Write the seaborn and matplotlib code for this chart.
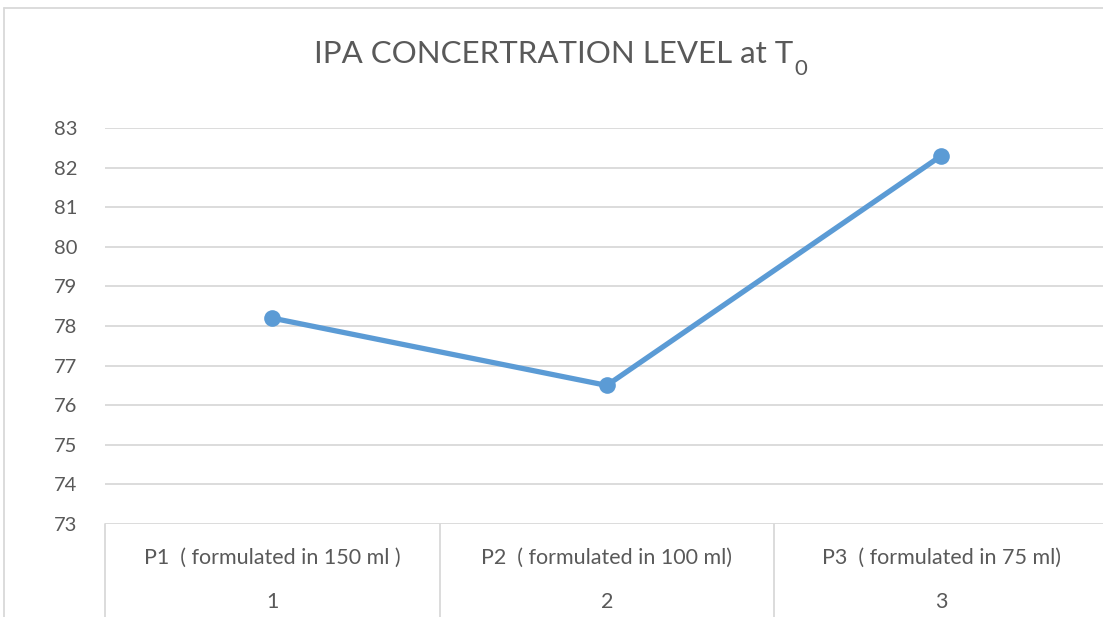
import matplotlib
matplotlib.use("Agg")
import matplotlib.pyplot as plt
import matplotlib.transforms as mtransforms
import seaborn as sns
import pandas as pd

# Data
positions = [1, 2, 3]
categories = ["P1  ( formulated in 150 ml )", "P2  ( formulated in 100 ml)", "P3  ( formulated in 75 ml)"]
values = [78.2, 76.5, 82.3]
y_ticks = list(range(73, 84))

sns.set_style("white")
plt.rcParams['font.family'] = ['Lato', 'DejaVu Sans']

df = pd.DataFrame({"pos": positions, "val": values})

fig = plt.figure(figsize=(11.03, 6.17), dpi=100)
ax = fig.add_axes([0.0952, 0.1507, 0.9098, 0.6418])

grid_c = "#D9D9D9"
text_c = "#595959"

for y in y_ticks:
    ax.axhline(y, color=grid_c, lw=1.3, zorder=0)

sns.lineplot(data=df, x="pos", y="val", ax=ax, color="#5B9BD5", lw=3.8,
             marker="o", markersize=12, markeredgewidth=0, zorder=3)

ax.set_xlim(0.5, 3.5)
ax.set_ylim(73, 83)
ax.set_yticks(y_ticks)
ax.set_yticklabels([str(v) for v in y_ticks], color=text_c, fontsize=14.5)
ax.tick_params(axis='y', length=0, pad=20)
ax.set_xticks([])
ax.set_xlabel("")
ax.set_ylabel("")
for s in ax.spines.values():
    s.set_visible(False)

# Multi-level category axis
trans = mtransforms.blended_transform_factory(ax.transData, ax.transAxes)
for b in [0.5, 1.5, 2.5, 3.5]:
    ax.plot([b, b], [0, -0.26], transform=trans, color=grid_c, lw=1.3, clip_on=False)
for p, c in zip(positions, categories):
    ax.text(p, -0.085, c, transform=trans, ha='center', va='center', color=text_c, fontsize=15.5)
    ax.text(p, -0.198, str(p), transform=trans, ha='center', va='center', color=text_c, fontsize=15.5)

# Title with subscript
title_main = "IPA CONCERTRATION LEVEL at T"
t = fig.text(0.502, 0.912, title_main, ha='center', va='center', color=text_c, fontsize=22.5)
fig.canvas.draw()
bb = t.get_window_extent()
fig.text((bb.x1 + 1) / fig.bbox.width, (bb.y0 - 11) / fig.bbox.height, "0",
         ha='left', va='bottom', color=text_c, fontsize=16)

# Chart border
fig.add_artist(plt.Line2D([0.004, 0.004], [0, 0.987], transform=fig.transFigure, color=grid_c, lw=1.3))
fig.add_artist(plt.Line2D([0.004, 1], [0.987, 0.987], transform=fig.transFigure, color=grid_c, lw=1.3))

fig.savefig("out.png", dpi=100)
